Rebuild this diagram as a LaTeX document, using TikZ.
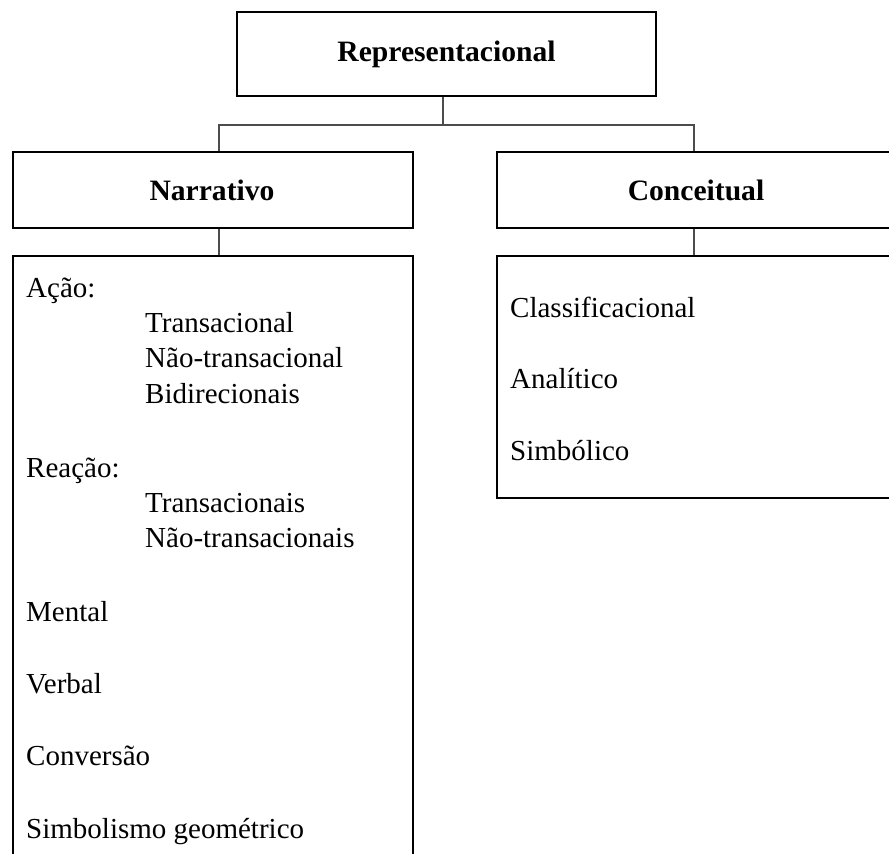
\documentclass[tikz,border=0pt]{standalone}
\usepackage{fontspec}
\setmainfont{Liberation Serif}
\begin{document}
\begin{tikzpicture}[x=1pt,y=-1pt,
  box/.style={draw=black,line width=2.8pt,inner sep=0pt},
  link/.style={draw=black!70,line width=1.3pt},
  head/.style={font=\fontsize{29.6}{34}\selectfont\bfseries},
  item/.style={anchor=base west,inner sep=0pt,font=\fontsize{29}{34}\selectfont}]
\useasboundingbox (0,0) rectangle (889,854);
\clip (0,0) rectangle (889,854);
\node[box,minimum width=419pt,minimum height=84pt] (rep) at (446.5,54) {};
\node[head] at (446.5,54) {Representacional};
\node[box,minimum width=400pt,minimum height=76pt] (nar) at (213,190) {};
\node[head] at (212,190) {Narrativo};
\node[box,minimum width=394pt,minimum height=76pt] (con) at (694,190) {};
\node[head] at (696,190) {Conceitual};
\node[box,minimum width=400pt,minimum height=640pt] (narl) at (213,576) {};
\node[box,minimum width=394pt,minimum height=242pt] (conl) at (694,377) {};
\coordinate (hub) at (443,125);
\draw[link] ([xshift=-3.5pt]rep.south) -- (hub);
\draw[link] (hub) -| ([xshift=6pt]nar.north);
\draw[link] (hub) -| (con.north);
\draw[link] ([xshift=6pt]nar.south) -- ([xshift=6pt]narl.north);
\draw[link] (con.south) -- (conl.north);
\node[item] (a1) at (26,297) {Ação:};
\node[item] (a2) at (145,332) {Transacional};
\node[item] (a3) at (145,367) {Não-transacional};
\node[item] (a4) at (145,403) {Bidirecionais};
\node[item] (b1) at (26,477) {Reação:};
\node[item] (b2) at (145,512) {Transacionais};
\node[item] (b3) at (145,547) {Não-transacionais};
\node[item] (c1) at (26,621) {Mental};
\node[item] (c2) at (26,693) {Verbal};
\node[item] (c3) at (26,765) {Conversão};
\node[item] (c4) at (26,838) {Simbolismo geométrico};
\node[item] (d1) at (510,317) {Classificacional};
\node[item] (d2) at (510,388) {Analítico};
\node[item] (d3) at (510,460) {Simbólico};
\end{tikzpicture}
\end{document}
